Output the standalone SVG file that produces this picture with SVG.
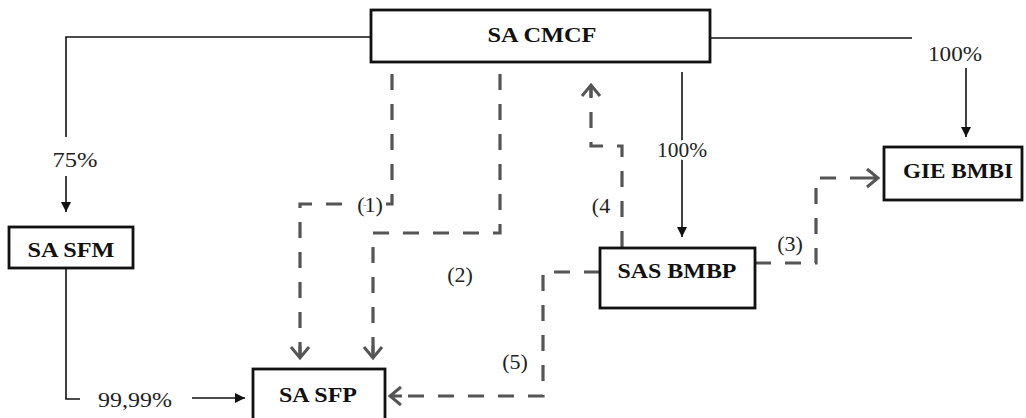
<svg xmlns="http://www.w3.org/2000/svg" width="1026" height="418" viewBox="0 0 1026 418">
<defs>
<style>
.box{fill:#fff;stroke:#111;stroke-width:2.8}
.bl{font-family:"Liberation Serif","Times New Roman",serif;font-weight:bold;font-size:22px;fill:#111;text-anchor:middle}
.lb{font-family:"Liberation Serif","Times New Roman",serif;font-size:22px;fill:#222;text-anchor:middle}
.halo{stroke:#fff;stroke-width:6;paint-order:stroke}
.solid{fill:none;stroke:#111;stroke-width:1.6}
.dash{fill:none;stroke:#555;stroke-width:3.2;stroke-dasharray:16 14}
</style>
<marker id="fa" viewBox="-10 -6 12 12" refX="0" refY="0" markerWidth="12" markerHeight="12" markerUnits="userSpaceOnUse" orient="auto">
<path d="M-10,-5 L0,0 L-10,5 Z" fill="#111"/>
</marker>
<marker id="oa" viewBox="-14 -12 17 24" refX="0" refY="0" markerWidth="17" markerHeight="24" markerUnits="userSpaceOnUse" orient="auto" overflow="visible">
<path d="M-11,-9 L0,0 L-11,9 M0,0 L-12,0" fill="none" stroke="#555" stroke-width="3"/>
</marker>
</defs>
<g id="connectors">
<path class="solid" d="M371,37 H66 V137"/>
<path class="solid" d="M66,176 V212" marker-end="url(#fa)"/>
<path class="solid" d="M66,268 V399 H80"/>
<path class="solid" d="M192,398 H245" marker-end="url(#fa)"/>
<path class="solid" d="M682,72 V237" marker-end="url(#fa)"/>
<path class="solid" d="M710,38 H912"/>
<path class="solid" d="M966,68 V137" marker-end="url(#fa)"/>
<path class="dash" d="M392,74 V204 H300 V358" marker-end="url(#oa)"/>
<path class="dash" d="M500,74 V233 H373 V358" marker-end="url(#oa)"/>
<path class="dash" d="M622,247 V146 H591 V85" marker-end="url(#oa)"/>
<path class="dash" d="M755,263 H816 V178 H878" marker-end="url(#oa)"/>
<path class="dash" d="M600,272 H543 V396 H390" marker-end="url(#oa)"/>
<text class="lb halo" x="75" y="167" textLength="45" lengthAdjust="spacingAndGlyphs">75%</text>
<text class="lb halo" x="135" y="407" textLength="74" lengthAdjust="spacingAndGlyphs">99,99%</text>
<text class="lb halo" x="682" y="157" textLength="50" lengthAdjust="spacingAndGlyphs">100%</text>
<text class="lb halo" x="955" y="61" textLength="54" lengthAdjust="spacingAndGlyphs">100%</text>
<text class="lb halo" x="370" y="212">(1)</text>
<text class="lb halo" x="460" y="282">(2)</text>
<text class="lb halo" x="790" y="251">(3)</text>
<text class="lb halo" x="601" y="213">(4</text>
<text class="lb halo" x="515" y="369">(5)</text>
</g>
<g id="sa-cmcf">
<rect class="box" x="371" y="10" width="339" height="52"/>
<text class="bl" x="542" y="42" textLength="109" lengthAdjust="spacingAndGlyphs">SA CMCF</text>
</g>
<g id="sa-sfm">
<rect class="box" x="9" y="227" width="124" height="41"/>
<text class="bl" x="71" y="257" textLength="87" lengthAdjust="spacingAndGlyphs">SA SFM</text>
</g>
<g id="sas-bmbp">
<rect class="box" x="600" y="248" width="155" height="60"/>
<text class="bl" x="677" y="278" textLength="119" lengthAdjust="spacingAndGlyphs">SAS BMBP</text>
</g>
<g id="gie-bmbi">
<rect class="box" x="884" y="147" width="138" height="53"/>
<text class="bl" x="958" y="178" textLength="110" lengthAdjust="spacingAndGlyphs">GIE BMBI</text>
</g>
<g id="sa-sfp">
<rect class="box" x="253" y="369" width="132" height="62"/>
<text class="bl" x="318" y="402" textLength="78" lengthAdjust="spacingAndGlyphs">SA SFP</text>
</g>
</svg>
